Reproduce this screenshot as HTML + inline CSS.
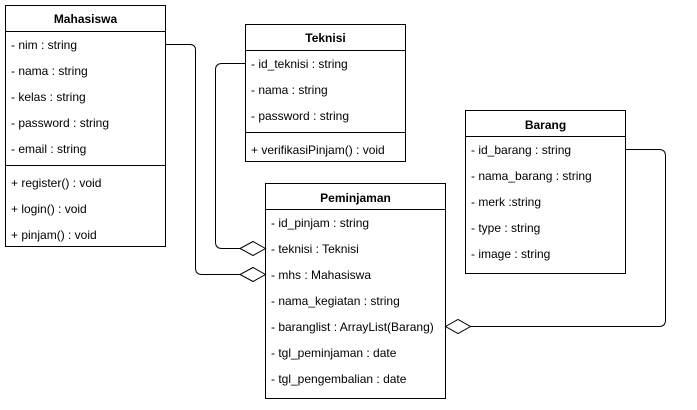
<!DOCTYPE html>
<html><head><style>
body{margin:0;background:#fff;}
svg text{font-family:"Liberation Sans",sans-serif;font-size:12px;fill:#000;}
.b{font-weight:bold;}
</style></head><body>
<svg width="697" height="405" xmlns="http://www.w3.org/2000/svg">
<g fill="#fff" stroke="#000" stroke-width="1">
<rect x="5.5" y="5.5" width="160" height="241"/>
<line x1="5.5" y1="31.5" x2="165.5" y2="31.5"/>
<line x1="5.5" y1="165.5" x2="165.5" y2="165.5"/>
<rect x="245.5" y="24.5" width="160" height="137"/>
<line x1="245.5" y1="50.5" x2="405.5" y2="50.5"/>
<line x1="245.5" y1="132.5" x2="405.5" y2="132.5"/>
<rect x="265.5" y="183.5" width="180" height="215"/>
<line x1="265.5" y1="209.5" x2="445.5" y2="209.5"/>
<rect x="465.5" y="110.5" width="160" height="163"/>
<line x1="465.5" y1="136.5" x2="625.5" y2="136.5"/>
</g>
<g fill="none" stroke="#000" stroke-width="1">
<path d="M165.5 44.5 H190 Q195.5 44.5 195.5 50 V268 Q195.5 274.5 202 274.5 H240"/>
<path d="M245.5 63.5 H222 Q215.5 63.5 215.5 70 V242 Q215.5 248.5 222 248.5 H240"/>
<path d="M625.5 149.5 H659 Q665.5 149.5 665.5 156 V320 Q665.5 326.5 659 326.5 H470"/>
</g>
<g fill="#fff" stroke="#000">
<path d="M265.5 248.5 L253 241.5 L240 248.5 L253 255.5 Z"/>
<path d="M265.5 274.5 L253 267.5 L240 274.5 L253 281.5 Z"/>
<path d="M445.5 326.5 L458 319.5 L470.5 326.5 L458 333.5 Z"/>
</g>
<text class="b" x="85.5" y="23" text-anchor="middle">Mahasiswa</text>
<text x="11" y="49">- nim : string</text>
<text x="11" y="75">- nama : string</text>
<text x="11" y="101">- kelas : string</text>
<text x="11" y="127">- password : string</text>
<text x="11" y="153">- email : string</text>
<text x="11" y="187">+ register() : void</text>
<text x="11" y="213">+ login() : void</text>
<text x="11" y="239">+ pinjam() : void</text>
<text class="b" x="325.5" y="42" text-anchor="middle">Teknisi</text>
<text x="251" y="68">- id_teknisi : string</text>
<text x="251" y="94">- nama : string</text>
<text x="251" y="120">- password : string</text>
<text x="251" y="154">+ verifikasiPinjam() : void</text>
<text class="b" x="355.5" y="202" text-anchor="middle">Peminjaman</text>
<text x="271" y="227">- id_pinjam : string</text>
<text x="271" y="253">- teknisi : Teknisi</text>
<text x="271" y="279">- mhs : Mahasiswa</text>
<text x="271" y="305">- nama_kegiatan : string</text>
<text x="271" y="331">- baranglist : ArrayList(Barang)</text>
<text x="271" y="357">- tgl_peminjaman : date</text>
<text x="271" y="383">- tgl_pengembalian : date</text>
<text class="b" x="545.5" y="129" text-anchor="middle">Barang</text>
<text x="471" y="154">- id_barang : string</text>
<text x="471" y="180">- nama_barang : string</text>
<text x="471" y="206">- merk :string</text>
<text x="471" y="232">- type : string</text>
<text x="471" y="258">- image : string</text>
</svg>
</body></html>
